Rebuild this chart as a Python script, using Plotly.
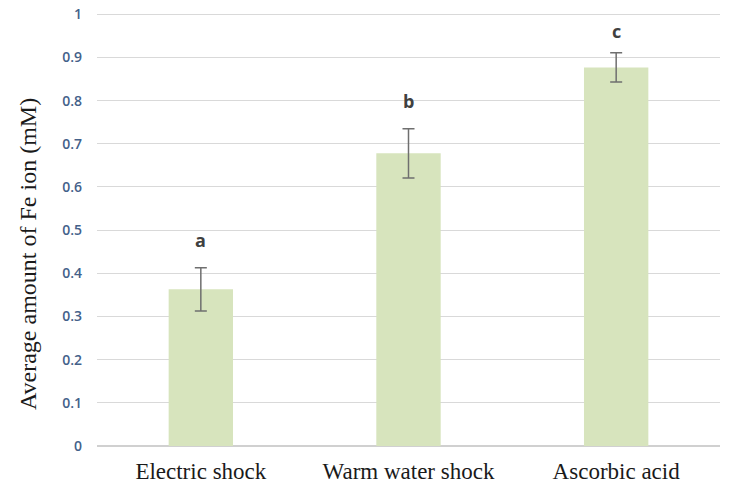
import plotly.graph_objects as go

categories = ["Electric shock", "Warm water shock", "Ascorbic acid"]
values = [0.363, 0.678, 0.877]
errors = [0.05, 0.057, 0.034]
letters = ["a", "b", "c"]
letter_y = [0.477, 0.80, 0.962]
yticks = [0, 0.1, 0.2, 0.3, 0.4, 0.5, 0.6, 0.7, 0.8, 0.9, 1]
yticklabels = ["0", "0.1", "0.2", "0.3", "0.4", "0.5", "0.6", "0.7", "0.8", "0.9", "1"]
ytitle = "Average amount of Fe ion (mM)"

fig = go.Figure()
fig.add_trace(go.Bar(
    x=categories, y=values, width=0.31,
    marker=dict(color="#d7e4bd", line=dict(width=0)),
    error_y=dict(type="data", array=errors, visible=True, color="#6f6f6f", thickness=1.5, width=6),
))
for c, l, ly in zip(categories, letters, letter_y):
    fig.add_annotation(x=c, y=ly, text="<b>" + l + "</b>", showarrow=False,
                       font=dict(family="Open Sans", size=18, color="#404040"))

fig.add_annotation(xref="paper", yref="paper", x=-0.111, y=0.44, text=ytitle, textangle=-90,
                   showarrow=False, xanchor="center", yanchor="middle",
                   font=dict(family="Liberation Serif", size=24, color="#1a1a1a"))

fig.update_layout(
    width=713, height=477,
    margin=dict(l=89, r=1, t=2, b=39, autoexpand=False),
    paper_bgcolor="white", plot_bgcolor="white",
    showlegend=False,
    xaxis=dict(showline=False, ticks="", ticklabelstandoff=9, automargin=False,
               tickfont=dict(family="Liberation Serif", size=23, color="#1a1a1a")),
    yaxis=dict(range=[0, 1.01], tickvals=yticks, ticktext=yticklabels, automargin=False,
               ticklabeloverflow="allow",
               showgrid=True, gridcolor="#d9d9d9", gridwidth=1, zeroline=True, zerolinecolor="#d0d0d0",
               zerolinewidth=1.5, ticks="", ticklabelstandoff=14,
               tickfont=dict(family="Open Sans", size=14, color="#44618a", weight=600)),
)
fig.write_html("out.html")
